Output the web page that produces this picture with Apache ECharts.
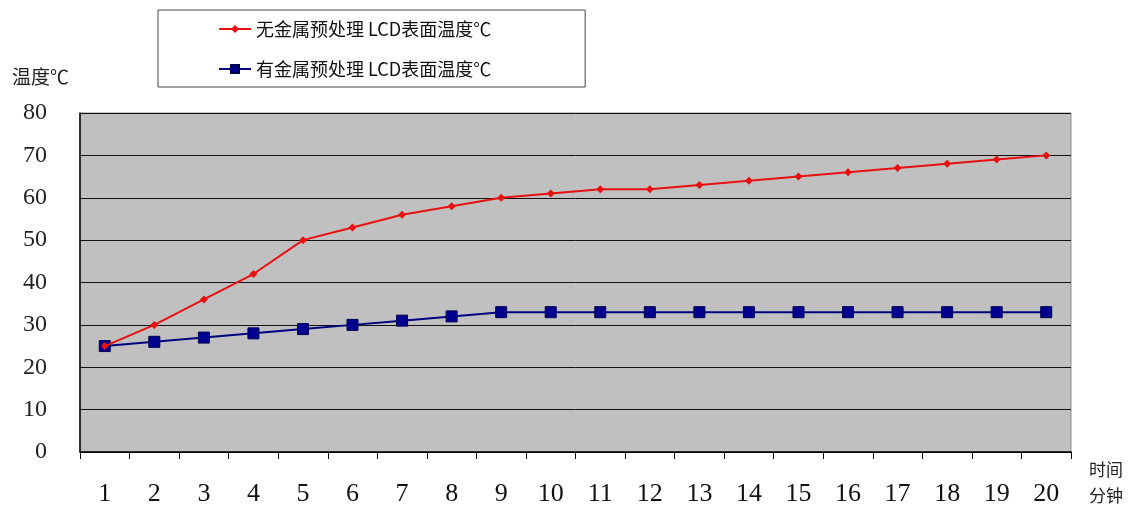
<!DOCTYPE html>
<html>
<head>
<meta charset="utf-8">
<script src="https://cdn.jsdelivr.net/npm/echarts@6/dist/echarts.min.js"></script>
<style>html,body{margin:0;padding:0;background:#fff;}#c{width:1148px;height:507px;}</style>
</head>
<body>
<div id="c"></div>
<script>
const categories = ['1','2','3','4','5','6','7','8','9','10','11','12','13','14','15','16','17','18','19','20'];
const seriesNames = ['无金属预处理 LCD表面温度℃', '有金属预处理 LCD表面温度℃'];
const noMetal = [25,30,36,42,50,53,56,58,60,61,62,62,63,64,65,66,67,68,69,70];
const withMetal = [25,26,27,28,29,30,31,32,33,33,33,33,33,33,33,33,33,33,33,33];
const yTicks = {min: 0, max: 80, interval: 10};

const chart = echarts.init(document.getElementById('c'));
chart.setOption({
  animation: false,
  backgroundColor: '#fff',
  legend: {
    orient: 'vertical',
    left: 158, top: 10,
    padding: [10, 94, 9, 60],
    itemGap: 22,
    itemWidth: 32, itemHeight: 10,
    borderColor: '#444', borderWidth: 1,
    textStyle: {fontSize: 18, color: '#111', fontFamily: '"Noto Sans CJK SC", serif'},
    data: seriesNames
  },
  grid: {
    left: 80, right: 77, top: 113, bottom: 54,
    show: true, backgroundColor: '#c0c0c0', borderColor: '#8a8a8a', borderWidth: 1
  },
  xAxis: {
    type: 'category',
    data: categories,
    boundaryGap: true,
    axisLine: {lineStyle: {color: '#000', width: 1.5}},
    axisTick: {show: true, length: 7, lineStyle: {color: '#000'}},
    axisLabel: {margin: 29, fontSize: 26, color: '#111', fontFamily: '"Liberation Serif", serif'},
    splitLine: {show: false}
  },
  yAxis: {
    type: 'value',
    min: yTicks.min, max: yTicks.max, interval: yTicks.interval,
    axisLine: {show: true, lineStyle: {color: '#000', width: 1.5}},
    axisTick: {show: false},
    axisLabel: {margin: 33, fontSize: 24, color: '#222', fontFamily: '"Liberation Serif", serif'},
    splitLine: {show: true, lineStyle: {color: '#111', width: 1}}
  },
  graphic: [
    {type: 'text', left: 12, top: 67, style: {text: '温度℃', fontSize: 19, fill: '#222', fontFamily: '"Noto Sans CJK SC", sans-serif'}},
    {type: 'text', left: 1089, top: 457, style: {text: '时间\n分钟', fontSize: 17, lineHeight: 26, fill: '#222', fontFamily: '"Noto Sans CJK SC", sans-serif'}}
  ],
  series: [
    {
      name: seriesNames[0], type: 'line', data: noMetal,
      symbol: 'diamond', symbolSize: 8,
      lineStyle: {color: '#e81010', width: 2},
      itemStyle: {color: '#e81010'},
      z: 3
    },
    {
      name: seriesNames[1], type: 'line', data: withMetal,
      symbol: 'rect', symbolSize: 11,
      lineStyle: {color: '#000080', width: 2},
      itemStyle: {color: '#000090', borderColor: '#000050', borderWidth: 1},
      z: 2
    }
  ]
});
</script>
</body>
</html>
